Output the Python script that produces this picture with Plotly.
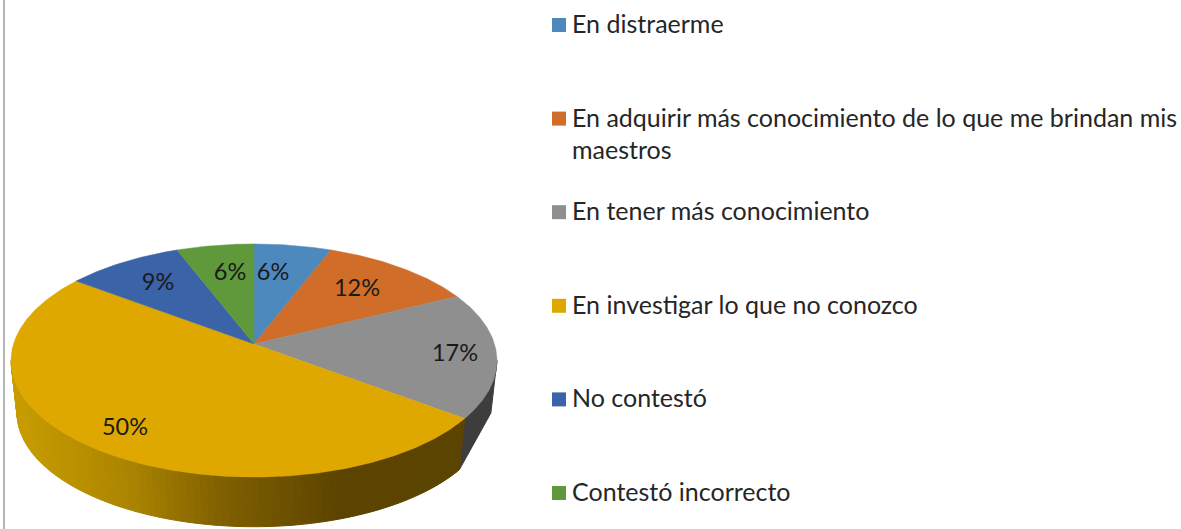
import math
import plotly.graph_objects as go

# ---- data ----
categories = ["En distraerme",
              "En adquirir más conocimiento de lo que me brindan mis<br>maestros",
              "En tener más conocimiento",
              "En investigar lo que no conozco",
              "No contestó",
              "Contestó incorrecto"]
values = [5.9, 11.8, 17.5, 50.0, 8.9, 5.9]
value_labels = ["6%", "12%", "17%", "50%", "9%", "6%"]

# ---- style ----
colors = ["#4E89BE", "#CF6D29", "#8F8F8F", "#DFA800", "#3B63A8", "#5F993B"]
side_gray = "#3D3D3D"
gold_stops = [(14, (200, 156, 0)), (130, (170, 132, 0)), (220, (128, 96, 0)),
              (340, (92, 68, 0)), (470, (91, 67, 0))]
FONT = "Lato"
W, H = 1181, 529
CX, CY = 254, 344        # apex of the pie on the page
RX, RY, P = 240.5, 114.2, 0.1416
DEPTH, SHRINK = 53, 0.975
LABEL_XY = [(273, 274), (357, 290), (455, 355), (125, 429), (158, 284), (230, 274)]
LEGEND_X, LEGEND_Y0, LEGEND_STEP = 559, 25, 93.6


def project(a_deg, r=1.0, low=False):
    a = math.radians(a_deg)
    u, v = r * math.sin(a), -r * math.cos(a)
    w = 1 - P * v
    s = SHRINK if low else 1.0
    return CX + s * RX * u / w, CY + s * RY * v / w + (DEPTH if low else 0)


def gold(x):
    for (x0, c0), (x1, c1) in zip(gold_stops, gold_stops[1:]):
        if x <= x1:
            t = max(0.0, (x - x0) / (x1 - x0))
            return "rgb(%d,%d,%d)" % tuple(round(p + t * (q - p)) for p, q in zip(c0, c1))
    return "rgb(91,67,0)"


def frange(a, b, step):
    n = max(1, int(round((b - a) / step)))
    return [a + (b - a) * i / n for i in range(n + 1)]


fig = go.Figure()

# cumulative angles (clockwise from the top)
total = sum(values)
edges = [0.0]
for val in values:
    edges.append(edges[-1] + 360.0 * val / total)

# rim (visible front part only)
sil = math.degrees(math.acos(-P))
rim_start, rim_end = sil, 360 - sil
gray_i, gold_i = 2, 3


def rim(a0, a1, color):
    top = [project(a) for a in frange(a0, a1, 0.5)]
    low = [project(a, low=True) for a in frange(a1, a0, 0.5)]
    pts = top + low + top[:1]
    fig.add_trace(go.Scatter(x=[p[0] for p in pts], y=[p[1] for p in pts], mode="lines",
                             fill="toself", fillcolor=color,
                             line=dict(color=color, width=1), hoverinfo="skip", showlegend=False))


rim(rim_start, edges[gold_i], side_gray)
strip = frange(edges[gold_i], rim_end, 1.5)
for a0, a1 in sorted(zip(strip, strip[1:]), key=lambda s: -project(s[0])[0]):
    rim(a0, a1, gold(project((a0 + a1) / 2)[0]))

# top face wedges
for i, col in enumerate(colors):
    pts = [(CX, CY)] + [project(a) for a in frange(edges[i], edges[i + 1], 0.5)] + [(CX, CY)]
    fig.add_trace(go.Scatter(x=[p[0] for p in pts], y=[p[1] for p in pts], mode="lines",
                             fill="toself", fillcolor=col, line=dict(color=col, width=0.5),
                             name=categories[i].replace("<br>", " "), showlegend=False,
                             hovertemplate="%{fullData.name}: " + value_labels[i] + "<extra></extra>"))

# value labels
fig.add_trace(go.Scatter(x=[p[0] for p in LABEL_XY], y=[p[1] for p in LABEL_XY], mode="text",
                         text=value_labels, textposition="middle center",
                         textfont=dict(family=FONT, size=23.5, color="#1A1A1A"),
                         hoverinfo="skip", showlegend=False))

# legend swatches + text
ly = [LEGEND_Y0 + i * LEGEND_STEP for i in range(len(categories))]
fig.add_trace(go.Scatter(x=[LEGEND_X] * len(categories), y=ly, mode="markers",
                         marker=dict(symbol="square", size=14, color=colors, line=dict(width=0)),
                         hoverinfo="skip", showlegend=False))
for cat, y in zip(categories, ly):
    for j, line in enumerate(cat.split("<br>")):
        fig.add_annotation(x=570, y=y - 2 + j * 32, text=line, showarrow=False, xanchor="left",
                           yanchor="middle", xref="x", yref="y",
                           font=dict(family=FONT, size=25, color="#262626"))

# chart-area border at the left
fig.add_shape(type="line", x0=4, x1=4, y0=0, y1=H, line=dict(color="#B5B5B5", width=2), layer="below")

fig.update_layout(width=W, height=H, margin=dict(l=0, r=0, t=0, b=0),
                  paper_bgcolor="white", plot_bgcolor="white", showlegend=False,
                  xaxis=dict(range=[0, W], visible=False, fixedrange=True),
                  yaxis=dict(range=[H, 0], visible=False, fixedrange=True))
fig.write_html("out.html", config={"displayModeBar": False},
               post_script="document.body.style.margin='0';document.body.style.overflow='hidden';")
